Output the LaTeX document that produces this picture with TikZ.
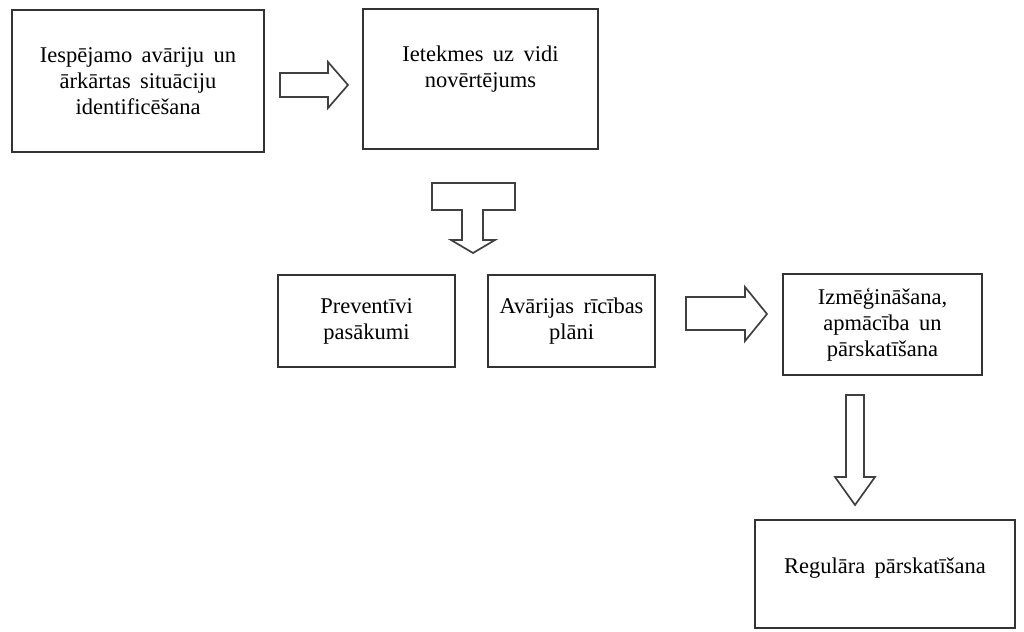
\documentclass[tikz,border=0pt]{standalone}
\usepackage{fontspec}
\setmainfont{Liberation Serif}
\newcommand{\stageFont}{\fontsize{16}{18.5}\selectfont\spaceskip=0.42em plus 0.1em\relax}
\begin{document}
\begin{tikzpicture}[
        x=0.025cm, y=-0.025cm,
        stageText/.style={align=center, font=\stageFont},
        stageBox/.style={rectangle, draw=black!80, line width=1.1pt, stageText},
        blockArrow/.style={draw=black!75, line width=1.2pt, fill=white}
    ]
        \useasboundingbox (0,0) rectangle (1024,631);

        \node[stageBox, minimum width=6.3cm, minimum height=3.55cm] (ident) at (138, 81) {Iespējamo avāriju un\\ārkārtas situāciju\\identificēšana};
        \node[stageBox, minimum width=5.875cm, minimum height=3.5cm,
            label={[name=impactText, stageText, yshift=0.26cm]center:Ietekmes uz vidi\\novērtējums}] (impact) at (480.5, 79) {};
        \node[stageBox, minimum width=4.425cm, minimum height=2.3cm] (prevent) at (366.5, 321) {Preventīvi\\pasākumi};
        \node[stageBox, minimum width=4.175cm, minimum height=2.3cm] (plans) at (571.5, 321) {Avārijas rīcības\\plāni};
        \node[stageBox, minimum width=4.975cm, minimum height=2.525cm] (testing) at (882.5, 324.5) {Izmēģināšana,\\apmācība un\\pārskatīšana};
        \node[stageBox, minimum width=6.5cm, minimum height=2.7cm,
            label={[name=reviewText, stageText, yshift=0.15cm]center:Regulāra pārskatīšana}] (review) at (885, 574) {};

        % block arrows
        \draw[blockArrow] (280,73) -- (328,73) -- (328,62) -- (348,85) -- (328,108) -- (328,97) -- (280,97) -- cycle;
        \draw[blockArrow] (432,183) -- (515,183) -- (515,210) -- (483,210) -- (483,240) -- (495,240) -- (473,253)
            -- (451,240) -- (462,240) -- (462,210) -- (432,210) -- cycle;
        \draw[blockArrow] (686,297) -- (745,297) -- (745,287) -- (767,314) -- (745,341) -- (745,330) -- (686,330) -- cycle;
        \draw[blockArrow] (846,395) -- (864,395) -- (864,477) -- (875,477) -- (855,505) -- (835,477) -- (846,477) -- cycle;
    \end{tikzpicture}
\end{document}
